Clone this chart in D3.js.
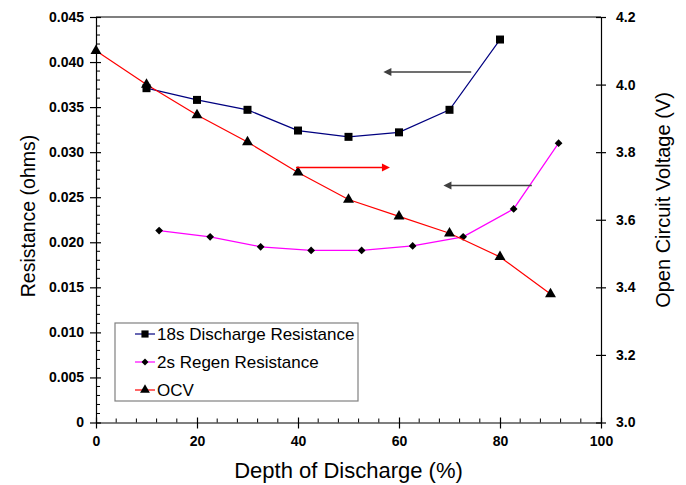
<!DOCTYPE html>
<html>
<head>
<meta charset="utf-8">
<script src="https://cdn.jsdelivr.net/npm/d3@7"></script>
<style>
  body { margin: 0; background: #fff; }
  text { font-family: "Liberation Sans", Arial, sans-serif; }
</style>
</head>
<body>
<div id="chart"></div>
<script>
// data
const dischargeDod = [10, 20, 30, 40, 50, 60, 70, 80]
const dischargeRes = [0.0371, 0.0358, 0.0347, 0.0324, 0.0317, 0.0322, 0.0347, 0.0425]

const regenDod = [12.5, 22.6, 32.6, 42.6, 52.6, 62.7, 72.7, 82.7, 91.6]
const regenRes = [0.0213, 0.0206, 0.0195, 0.0191, 0.0191, 0.0196, 0.0206, 0.0237, 0.0310]

const ocvDod = [0, 10, 20, 30, 40, 50, 60, 70, 80, 90]
const ocvVolt = [4.10, 4.00, 3.91, 3.83, 3.74, 3.66, 3.61, 3.56, 3.49, 3.38]

const xTicks = [0, 20, 40, 60, 80, 100]
const yLeftTicks = [0, 0.005, 0.01, 0.015, 0.02, 0.025, 0.03, 0.035, 0.04, 0.045]
const yRightTicks = [3.0, 3.2, 3.4, 3.6, 3.8, 4.0, 4.2]

const seriesNames = ['18s Discharge Resistance', '2s Regen Resistance', 'OCV']

// arrows pointing at the axis each curve belongs to (x from, x to, left-axis y)
const arrowFrom = [74.3, 39.6, 86.3]
const arrowTo = [56.9, 58.2, 68.8]
const arrowLevel = [0.0389, 0.0283, 0.0263]

const W = 686, H = 485
const M = { TOP: 17, LEFT: 96, RIGHT: 85, BOTTOM: 62.5 }
const WIDTH = W - M.LEFT - M.RIGHT
const HEIGHT = H - M.TOP - M.BOTTOM

const svg = d3.select('#chart').append('svg')
    .attr('width', W)
    .attr('height', H)

const g = svg.append('g')
    .attr('transform', `translate(${M.LEFT}, ${M.TOP})`)

const x = d3.scaleLinear().domain([0, 100]).range([0, WIDTH])
const yL = d3.scaleLinear().domain([0, 0.045]).range([HEIGHT, 0])
const yR = d3.scaleLinear().domain([3.0, 4.2]).range([HEIGHT, 0])

// minor ticks (inside)
const xMinor = d3.range(0, 101, 4).filter(v => v % 20 !== 0)
const yMinor = d3.range(0, 46).map(i => i * 0.001).filter((v, i) => i % 5 !== 0)

g.append('g').selectAll('line')
    .data(xMinor).join('line')
    .attr('x1', d => x(d)).attr('x2', d => x(d))
    .attr('y1', HEIGHT).attr('y2', HEIGHT - 4)
    .attr('stroke', '#000')

g.append('g').selectAll('line')
    .data(yMinor).join('line')
    .attr('x1', 0).attr('x2', 4)
    .attr('y1', d => yL(d)).attr('y2', d => yL(d))
    .attr('stroke', '#000')

// axes
const xAxis = g.append('g')
    .attr('transform', `translate(0, ${HEIGHT})`)
    .call(d3.axisBottom(x).tickValues(xTicks).tickSizeInner(6).tickSizeOuter(0).tickPadding(8))

const yAxisL = g.append('g')
    .call(d3.axisLeft(yL).tickValues(yLeftTicks).tickSizeInner(6).tickSizeOuter(0)
        .tickPadding(6).tickFormat(d => d === 0 ? '0' : d3.format('.3f')(d)))

const yAxisR = g.append('g')
    .attr('transform', `translate(${WIDTH}, 0)`)
    .call(d3.axisRight(yR).tickValues(yRightTicks).tickSizeInner(5).tickSizeOuter(0)
        .tickPadding(10).tickFormat(d3.format('.1f')))

// ticks crossing into the plot
xAxis.selectAll('.tick line').attr('y1', -5)
yAxisL.selectAll('.tick line').attr('x1', 5)
yAxisR.selectAll('.tick line').attr('x1', -5)

for (const ax of [xAxis, yAxisL, yAxisR]) {
    ax.selectAll('text')
        .attr('font-size', 14)
        .attr('font-weight', 'bold')
        .attr('font-family', '"Liberation Sans", Arial, sans-serif')
        .attr('fill', '#000')
    ax.selectAll('path, line').attr('stroke', '#000').attr('stroke-width', 1.2)
}

// top frame line
g.append('line')
    .attr('x1', 0).attr('x2', WIDTH)
    .attr('y1', 0).attr('y2', 0)
    .attr('stroke', '#000').attr('stroke-width', 1.2)

// axis titles
g.append('text')
    .attr('x', WIDTH / 2)
    .attr('y', HEIGHT + 55)
    .attr('font-size', 22)
    .attr('text-anchor', 'middle')
    .text('Depth of Discharge (%)')

g.append('text')
    .attr('transform', `translate(${28 - M.LEFT}, ${216 - M.TOP}) rotate(-90)`)
    .attr('font-size', 19.5)
    .attr('text-anchor', 'middle')
    .attr('dy', '0.35em')
    .text('Resistance (ohms)')

g.append('text')
    .attr('transform', `translate(${663 - M.LEFT}, ${200 - M.TOP}) rotate(-90)`)
    .attr('font-size', 20)
    .attr('text-anchor', 'middle')
    .attr('dy', '0.35em')
    .text('Open Circuit Voltage (V)')

// series
const series = [
    { name: seriesNames[0], xs: dischargeDod, ys: dischargeRes, y: yL, color: '#000080', symbol: d3.symbolSquare, size: 64, rot: 0 },
    { name: seriesNames[1], xs: regenDod, ys: regenRes, y: yL, color: '#ff00ff', symbol: d3.symbolSquare, size: 30, rot: 45 },
    { name: seriesNames[2], xs: ocvDod, ys: ocvVolt, y: yR, color: '#ff0000', symbol: d3.symbolTriangle, size: 52, rot: 0 }
]

series.forEach(s => {
    const pts = s.xs.map((v, i) => [v, s.ys[i]])
    g.append('path')
        .datum(pts)
        .attr('fill', 'none')
        .attr('stroke', s.color)
        .attr('stroke-width', 1.2)
        .attr('d', d3.line().x(d => x(d[0])).y(d => s.y(d[1])))

    g.append('g').selectAll('path')
        .data(pts).join('path')
        .attr('d', d3.symbol(s.symbol, s.size))
        .attr('transform', d => `translate(${x(d[0])}, ${s.y(d[1])}) rotate(${s.rot})`)
        .attr('fill', '#000')
})

// arrows
const arrowColors = ['#404040', '#ff0000', '#404040']
arrowFrom.forEach((from, i) => {
    const x1 = x(from), x2 = x(arrowTo[i]), yy = yL(arrowLevel[i])
    const dir = Math.sign(x2 - x1)
    g.append('line')
        .attr('x1', x1).attr('x2', x2 - dir * 6)
        .attr('y1', yy).attr('y2', yy)
        .attr('stroke', arrowColors[i]).attr('stroke-width', 1.5)
    g.append('path')
        .attr('d', `M${x2},${yy} L${x2 - dir * 8},${yy - 4} L${x2 - dir * 8},${yy + 4} Z`)
        .attr('fill', arrowColors[i])
})

// legend
const legend = svg.append('g').attr('transform', 'translate(115, 323)')
legend.append('rect')
    .attr('width', 243).attr('height', 78)
    .attr('fill', '#fff')
    .attr('stroke', '#808080').attr('stroke-width', 1.2)

series.forEach((s, i) => {
    const row = legend.append('g').attr('transform', `translate(0, ${11 + i * 28})`)
    row.append('line')
        .attr('x1', 20).attr('x2', 40)
        .attr('stroke', s.color).attr('stroke-width', 1.2)
    row.append('path')
        .attr('d', d3.symbol(s.symbol, s.size * 0.8))
        .attr('transform', `translate(30, 0) rotate(${s.rot})`)
        .attr('fill', '#000')
    row.append('text')
        .attr('x', 42)
        .attr('dy', '0.35em')
        .attr('font-size', 17)
        .text(s.name)
})
</script>
</body>
</html>
